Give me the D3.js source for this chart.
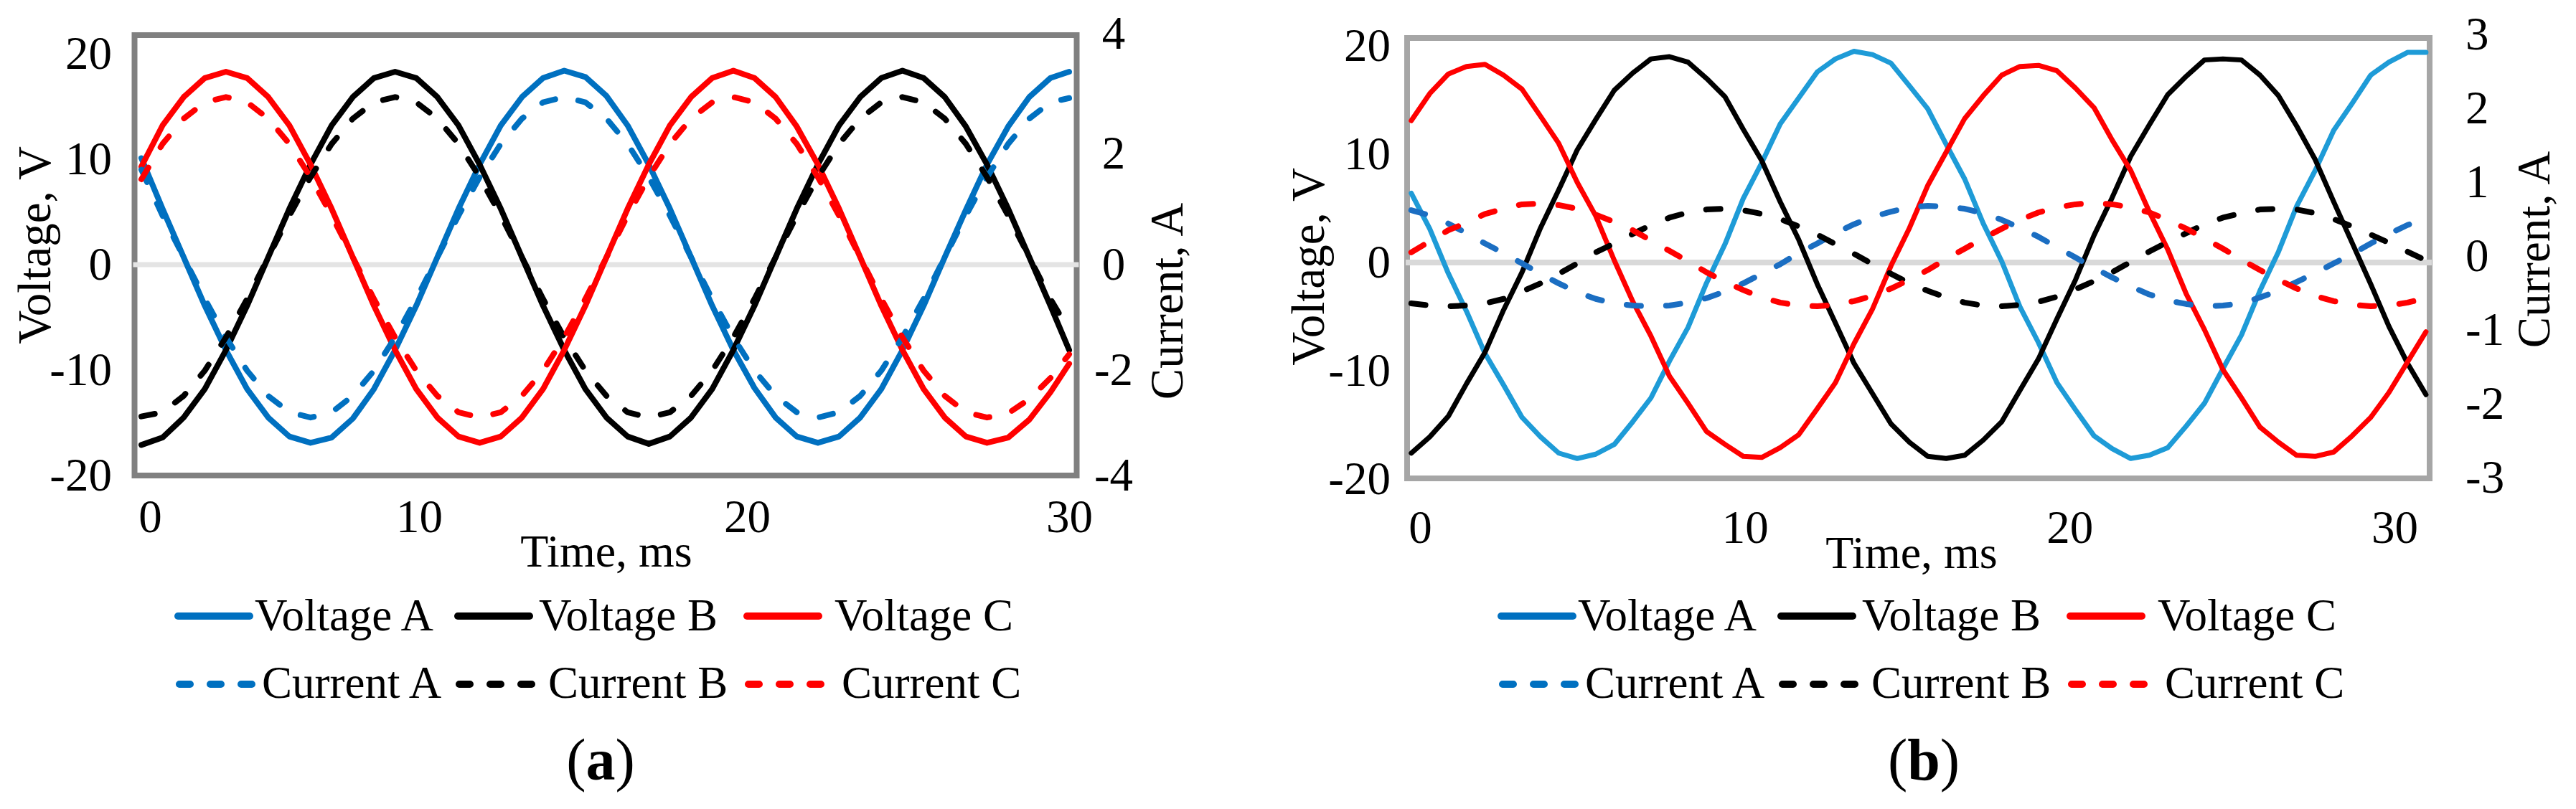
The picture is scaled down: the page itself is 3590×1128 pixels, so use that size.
<!DOCTYPE html>
<html><head><meta charset="utf-8">
<script src="https://cdn.jsdelivr.net/npm/d3@7"></script>
<style>html,body{margin:0;padding:0;background:#fff;}svg{display:block;}</style>
</head><body>
<svg id="chart" width="3590" height="1128"></svg>
<script>
// ---------------- data: panel (a) ----------------
const timeA = [-0.28,0.41,1.10,1.79,2.48,3.17,3.86,4.55,5.24,5.93,6.62,7.31,8.00,8.69,9.38,10.07,10.76,11.45,12.14,12.83,13.52,14.21,14.90,15.59,16.28,16.97,17.66,18.35,19.04,19.73,20.42,21.11,21.80,22.49,23.18,23.87,24.56,25.25,25.94,26.63,27.32,28.01,28.70,29.39,30.00];
const voltA_a = [10.1,5.3,0.7,-3.9,-8.1,-11.8,-14.5,-16.3,-16.9,-16.4,-14.6,-11.8,-8.1,-3.9,0.7,5.3,9.5,13.2,15.9,17.7,18.4,17.8,16.0,13.2,9.5,5.3,0.7,-3.9,-8.1,-11.7,-14.5,-16.3,-16.9,-16.3,-14.5,-11.8,-8.1,-3.9,0.7,5.2,9.5,13.1,15.9,17.7,18.3];
const voltB_a = [-17.1,-16.4,-14.5,-11.8,-8.1,-3.9,0.7,5.3,9.5,13.2,15.9,17.7,18.3,17.7,15.9,13.2,9.5,5.3,0.7,-3.9,-8.1,-11.8,-14.5,-16.3,-17.0,-16.3,-14.5,-11.8,-8.1,-3.9,0.7,5.3,9.5,13.2,15.9,17.7,18.4,17.7,15.9,13.1,9.5,5.3,0.7,-3.9,-8.1];
const voltC_a = [9.3,13.2,15.9,17.7,18.3,17.7,15.9,13.2,9.5,5.3,0.7,-3.9,-8.1,-11.8,-14.5,-16.3,-16.9,-16.3,-14.5,-11.8,-8.1,-3.9,0.7,5.3,9.5,13.2,15.9,17.7,18.4,17.7,15.9,13.1,9.5,5.3,0.7,-3.9,-8.1,-11.8,-14.5,-16.3,-16.9,-16.4,-14.7,-12.1,-9.4];
const currA_a = [1.80,0.93,0.14,-0.65,-1.38,-2.01,-2.49,-2.80,-2.90,-2.80,-2.49,-2.01,-1.38,-0.65,0.14,0.93,1.66,2.29,2.77,3.08,3.18,3.08,2.77,2.29,1.66,0.93,0.14,-0.65,-1.38,-2.01,-2.49,-2.80,-2.90,-2.80,-2.49,-2.01,-1.38,-0.65,0.14,0.93,1.66,2.29,2.77,3.08,3.16];
const currB_a = [-2.88,-2.80,-2.49,-2.01,-1.38,-0.65,0.14,0.93,1.66,2.29,2.77,3.08,3.18,3.08,2.77,2.29,1.66,0.93,0.14,-0.65,-1.38,-2.01,-2.49,-2.80,-2.90,-2.80,-2.49,-2.01,-1.38,-0.65,0.14,0.93,1.66,2.29,2.77,3.08,3.18,3.08,2.77,2.29,1.66,0.93,0.14,-0.65,-1.25];
const currC_a = [1.62,2.29,2.77,3.08,3.18,3.08,2.77,2.29,1.66,0.93,0.14,-0.65,-1.38,-2.01,-2.49,-2.80,-2.90,-2.80,-2.49,-2.01,-1.38,-0.65,0.14,0.93,1.66,2.29,2.77,3.08,3.18,3.08,2.77,2.29,1.66,0.93,0.14,-0.65,-1.38,-2.01,-2.49,-2.80,-2.90,-2.82,-2.55,-2.15,-1.70];

// ---------------- data: panel (b) ----------------
const timeB = [-0.27,0.30,0.87,1.43,2.00,2.57,3.14,3.71,4.27,4.84,5.41,5.98,6.55,7.11,7.68,8.25,8.82,9.39,9.95,10.52,11.09,11.66,12.23,12.79,13.36,13.93,14.50,15.07,15.63,16.20,16.77,17.34,17.91,18.47,19.04,19.61,20.18,20.75,21.31,21.88,22.45,23.02,23.59,24.15,24.72,25.29,25.86,26.43,26.99,27.56,28.13,28.70,29.27,29.83,30.40,30.97];
const voltA_b = [6.4,3.1,-1.0,-4.5,-8.4,-11.3,-14.3,-16.1,-17.6,-18.1,-17.7,-16.8,-14.7,-12.5,-9.1,-6.0,-1.9,1.7,5.9,9.2,12.8,15.2,17.6,18.8,19.5,19.2,18.4,16.3,14.2,10.9,7.7,3.6,0.1,-4.1,-7.4,-11.1,-13.6,-16.0,-17.2,-18.1,-17.8,-17.1,-15.1,-13.0,-9.8,-6.7,-2.6,1.0,5.2,8.5,12.2,14.7,17.3,18.5,19.4,19.4];
const voltB_b = [-17.6,-16.1,-14.2,-11.2,-8.3,-4.4,-0.9,3.2,6.7,10.4,13.2,15.9,17.5,18.8,19.0,18.5,17.0,15.3,12.3,9.4,5.6,2.1,-2.0,-5.6,-9.3,-12.1,-14.9,-16.6,-17.9,-18.1,-17.8,-16.4,-14.7,-11.8,-8.9,-5.2,-1.6,2.5,6.0,9.8,12.7,15.5,17.2,18.7,18.8,18.7,17.3,15.4,12.6,9.5,5.6,1.8,-2.0,-5.9,-9.3,-12.2];
const voltC_b = [13.1,15.6,17.4,18.1,18.3,17.3,16.0,13.5,11.0,7.4,4.3,0.2,-3.6,-6.8,-10.5,-13.0,-15.6,-16.8,-17.9,-18.0,-17.1,-15.9,-13.5,-11.1,-7.5,-4.3,-0.3,3.2,7.1,10.2,13.3,15.4,17.3,18.1,18.2,17.7,16.1,14.3,11.3,8.5,4.7,1.2,-2.9,-6.2,-9.9,-12.5,-15.2,-16.6,-17.8,-17.9,-17.5,-16.0,-14.3,-12.0,-9.2,-6.4];
const currA_b = [0.62,0.55,0.44,0.31,0.17,0.04,-0.10,-0.24,-0.37,-0.49,-0.58,-0.64,-0.67,-0.68,-0.67,-0.63,-0.57,-0.48,-0.37,-0.24,-0.11,0.04,0.17,0.31,0.43,0.53,0.60,0.66,0.68,0.67,0.64,0.58,0.49,0.38,0.26,0.12,-0.02,-0.16,-0.29,-0.41,-0.52,-0.60,-0.65,-0.68,-0.67,-0.64,-0.56,-0.47,-0.35,-0.23,-0.10,0.03,0.17,0.30,0.42,0.51];
const currB_b = [-0.64,-0.67,-0.68,-0.67,-0.64,-0.58,-0.48,-0.37,-0.24,-0.10,0.05,0.17,0.30,0.42,0.52,0.59,0.63,0.64,0.62,0.57,0.50,0.40,0.29,0.16,0.03,-0.11,-0.24,-0.37,-0.47,-0.56,-0.63,-0.67,-0.68,-0.66,-0.62,-0.55,-0.45,-0.34,-0.22,-0.08,0.06,0.19,0.31,0.43,0.52,0.58,0.63,0.64,0.63,0.58,0.50,0.40,0.29,0.18,0.06,-0.06];
const currC_b = [0.05,0.20,0.35,0.45,0.57,0.64,0.70,0.71,0.69,0.64,0.56,0.46,0.35,0.21,0.07,-0.07,-0.22,-0.35,-0.46,-0.56,-0.63,-0.67,-0.68,-0.66,-0.61,-0.54,-0.44,-0.32,-0.19,-0.04,0.10,0.24,0.37,0.49,0.59,0.66,0.70,0.72,0.70,0.66,0.59,0.49,0.37,0.24,0.10,-0.05,-0.19,-0.32,-0.44,-0.54,-0.61,-0.66,-0.68,-0.67,-0.63,-0.57];

// ---------------- ticks and labels ----------------
const timeTicks = [0, 10, 20, 30];
const voltageTicks = [-20, -10, 0, 10, 20];
const currentTicksA = [-4, -2, 0, 2, 4];
const currentTicksB = [-3, -2, -1, 0, 1, 2, 3];
const legendRow1 = ["Voltage A", "Voltage B", "Voltage C"];
const legendRow2 = ["Current A", "Current B", "Current C"];
const xTitle = "Time, ms";
const vTitle = "Voltage, V";
const iTitle = "Current, A";
const panelTags = ["a", "b"];

// ---------------- drawing ----------------
const FONT = "'Liberation Serif','Times New Roman',Times,serif";
const svg = d3.select("#chart");
svg.append("rect").attr("width", 3590).attr("height", 1128).attr("fill", "#fff");

function panel(o) {
  const g = svg.append("g");
  const x = d3.scaleLinear().domain([0, 30]).range(o.xRange);
  const yV = d3.scaleLinear().domain([-20, 20]).range(o.yVRange);
  const yI = d3.scaleLinear().domain(o.iDomain).range(o.yIRange);
  const [fx0, fy0, fx1, fy1] = o.frame;

  g.append("rect").attr("x", fx0).attr("y", fy0).attr("width", fx1 - fx0).attr("height", fy1 - fy0)
    .attr("fill", "none").attr("stroke", o.frameColor).attr("stroke-width", 8);
  g.append("line").attr("x1", fx0 - 2).attr("x2", fx1 + 3).attr("y1", yV(0)).attr("y2", yV(0))
    .attr("stroke", o.zeroColor).attr("stroke-width", o.zeroWidth);

  const lineV = d3.line().x((d, i) => x(o.t[i])).y(d => yV(d));
  const lineI = d3.line().x((d, i) => x(o.t[i])).y(d => yI(d));
  o.v.forEach((s, k) => {
    g.append("path").attr("d", lineV(s)).attr("fill", "none").attr("stroke", o.vColors[k])
      .attr("stroke-width", o.solidWidth).attr("stroke-linejoin", "round").attr("stroke-linecap", "round");
  });
  o.i.forEach((s, k) => {
    g.append("path").attr("d", lineI(s)).attr("fill", "none").attr("stroke", o.iColors[k])
      .attr("stroke-width", o.dashWidth).attr("stroke-dasharray", o.dash)
      .attr("stroke-linejoin", "round").attr("stroke-linecap", "round");
  });

  // axes (labels only)
  const fmt = d => String(d);
  const ax = g.append("g").attr("transform", `translate(0,${o.xAxisY})`)
    .call(d3.axisBottom(x).tickValues(timeTicks).tickSize(0).tickPadding(o.xPad).tickFormat(fmt));
  ax.select(".domain").remove();
  ax.attr("font-size", 65).attr("font-family", FONT);
  ax.selectAll("g.tick").each(function (d) {
    const n = o.xNudge[String(d)];
    if (n) d3.select(this).select("text").attr("transform", `translate(${n},0)`);
  });

  const ayl = g.append("g").attr("transform", `translate(${o.leftAxisX},0)`)
    .call(d3.axisLeft(yV).tickValues(voltageTicks).tickSize(0).tickPadding(0).tickFormat(fmt));
  ayl.select(".domain").remove();
  ayl.attr("font-size", 65).attr("font-family", FONT);

  const ayr = g.append("g").attr("transform", `translate(${o.rightAxisX},0)`)
    .call(d3.axisRight(yI).tickValues(o.iTicks).tickSize(0).tickPadding(0).tickFormat(fmt));
  ayr.select(".domain").remove();
  ayr.attr("font-size", 65).attr("font-family", FONT).attr("text-anchor", o.rightAnchor);
  ayr.selectAll("g.tick").each(function (d) {
    const n = o.iNudge[String(d)];
    if (n) d3.select(this).select("text").attr("transform", `translate(0,${n})`);
  });

  // titles
  g.append("text").attr("x", o.xTitlePos[0]).attr("y", o.xTitlePos[1]).attr("text-anchor", "middle")
    .attr("font-family", FONT).attr("font-size", 64).text(xTitle);
  g.append("text").attr("transform", `translate(${o.vTitlePos[0]},${o.vTitlePos[1]}) rotate(-90)`)
    .attr("text-anchor", "middle").attr("font-family", FONT).attr("font-size", 65).text(vTitle);
  g.append("text").attr("transform", `translate(${o.iTitlePos[0]},${o.iTitlePos[1]}) rotate(-90)`)
    .attr("text-anchor", "middle").attr("font-family", FONT).attr("font-size", 65).text(iTitle);

  // legend
  const cols = [243, 633, 1036].map(c => c + o.legendDx);
  const txtOff1 = [112, 118, 127], txtOff2 = [122, 131, 137];
  const legendColors = ["#0070C0", "#000000", "#FF0000"];
  legendRow1.forEach((name, k) => {
    g.append("line").attr("x1", cols[k] + 5).attr("x2", cols[k] + 105).attr("y1", 859).attr("y2", 859)
      .attr("stroke", legendColors[k]).attr("stroke-width", 10).attr("stroke-linecap", "round");
    g.append("text").attr("x", cols[k] + txtOff1[k]).attr("y", 879).attr("font-family", FONT)
      .attr("font-size", 63).text(name);
  });
  legendRow2.forEach((name, k) => {
    g.append("line").attr("x1", cols[k] + 7).attr("x2", cols[k] + 108).attr("y1", 954).attr("y2", 954)
      .attr("stroke", legendColors[k]).attr("stroke-width", 10).attr("stroke-linecap", "round")
      .attr("stroke-dasharray", "15,28");
    g.append("text").attr("x", cols[k] + txtOff2[k]).attr("y", 973).attr("font-family", FONT)
      .attr("font-size", 63).text(name);
  });

  // panel tag
  const tg = g.append("text").attr("x", o.tagX).attr("y", 1087).attr("text-anchor", "middle")
    .attr("font-family", FONT).attr("font-size", 82);
  tg.append("tspan").text("(");
  tg.append("tspan").attr("font-weight", "bold").text(o.tag);
  tg.append("tspan").text(")");
}

panel({
  t: timeA, v: [voltA_a, voltB_a, voltC_a], i: [currA_a, currB_a, currC_a],
  xRange: [209, 1490], yVRange: [663, 75], iDomain: [-4, 4], yIRange: [663, 75], iTicks: currentTicksA,
  frame: [187.5, 49, 1500.5, 663], frameColor: "#808080", zeroColor: "#e4e4e4", zeroWidth: 7,
  vColors: ["#0070C0", "#000000", "#FF0000"], iColors: ["#0070C0", "#000000", "#FF0000"],
  solidWidth: 8, dashWidth: 8, dash: "19,33",
  leftAxisX: 156, rightAxisX: 1552, rightAnchor: "middle", xAxisY: 663, xPad: 33,
  xNudge: {"10": -52, "20": -22}, iNudge: {"4": -28, "2": -8},
  xTitlePos: [845, 790], vTitlePos: [70, 342], iTitlePos: [1648, 420],
  legendDx: 0, tag: panelTags[0], tagX: 837
});

panel({
  t: timeB, v: [voltA_b, voltB_b, voltC_b], i: [currA_b, currB_b, currC_b],
  xRange: [1979, 3337], yVRange: [668, 64], iDomain: [-3, 3], yIRange: [666, 48], iTicks: currentTicksB,
  frame: [1961, 53, 3386, 667], frameColor: "#a6a6a6", zeroColor: "#d9d9d9", zeroWidth: 8,
  vColors: ["#1E9BD7", "#000000", "#FF0000"], iColors: ["#1B6EC2", "#000000", "#FF0000"],
  solidWidth: 7, dashWidth: 8, dash: "20,35",
  leftAxisX: 1938, rightAxisX: 3436, rightAnchor: "start", xAxisY: 667, xPad: 44,
  xNudge: {}, iNudge: {},
  xTitlePos: [2664, 792], vTitlePos: [1845, 372], iTitlePos: [3553, 348],
  legendDx: 1844, tag: panelTags[1], tagX: 2681
});
</script>
</body></html>
